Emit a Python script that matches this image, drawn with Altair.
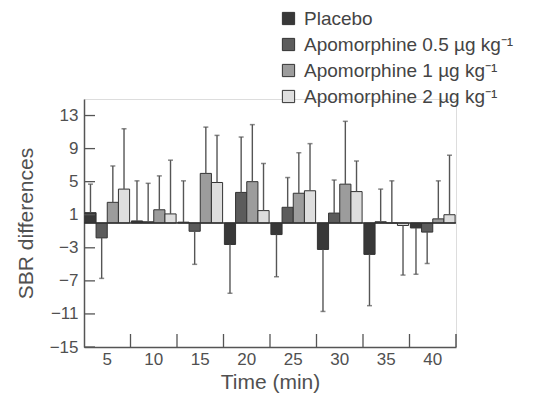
import altair as alt
import pandas as pd

times = [5, 10, 15, 20, 25, 30, 35, 40]
groups = [
    "Placebo",
    "Apomorphine 0.5 µg kg⁻¹",
    "Apomorphine 1 µg kg⁻¹",
    "Apomorphine 2 µg kg⁻¹",
]
placebo = [1.25, 0.25, 0.1, -2.6, -1.4, -3.2, -3.8, -0.6]
placebo_end = [4.7, 5.1, 5.1, -8.5, -6.5, -10.7, -10.0, -6.2]
apo05 = [-1.8, 0.15, -1.0, 3.7, 1.9, 1.2, 0.15, -1.1]
apo05_end = [-6.7, 4.8, -5.0, 10.4, 5.5, 5.2, 4.1, -4.9]
apo1 = [2.5, 1.6, 6.0, 5.0, 3.6, 4.7, 0.0, 0.5]
apo1_end = [6.9, 5.7, 11.6, 11.9, 8.5, 12.3, 5.1, 5.1]
apo2 = [4.1, 1.1, 4.9, 1.5, 3.9, 3.8, -0.3, 1.0]
apo2_end = [11.4, 7.6, 10.6, 7.2, 9.6, 7.5, -6.3, 8.2]
y_ticks = [-15, -11, -7, -3, 1, 5, 9, 13]
colors = ["#383838", "#5c5c5c", "#9c9c9c", "#dedede"]

W, H = 372, 248
TXT = "#505050"
AX = "#555555"

rows = []
for g, vals, ends in zip(groups, [placebo, apo05, apo1, apo2],
                         [placebo_end, apo05_end, apo1_end, apo2_end]):
    for t, v, e in zip(times, vals, ends):
        rows.append({"time": t, "group": g, "value": v, "end": e})
df = pd.DataFrame(rows)

xscale = alt.Scale(paddingInner=0, paddingOuter=0)
x_axis = alt.Axis(title="Time (min)", labelAngle=0, ticks=False, domainColor=AX,
                  domainWidth=1.5, labelFontSize=17, labelColor=TXT, labelPadding=4,
                  titleFontSize=21, titleColor=TXT, titleFontWeight="normal",
                  titlePadding=4, grid=False)
x = alt.X("time:O", scale=xscale, axis=x_axis)
xoff = alt.XOffset("group:N", scale=alt.Scale(domain=groups, paddingInner=0, paddingOuter=0.08))
yscale = alt.Scale(domain=[-15, 15], nice=False)
y_axis = alt.Axis(title="SBR differences", values=y_ticks, ticks=False, grid=False,
                  domainColor=AX, domainWidth=1.5, labelFontSize=17, labelColor=TXT,
                  labelPadding=6, labelOverlap=False, titleFontSize=21, titleColor=TXT,
                  titleFontWeight="normal", titlePadding=13)

base = alt.Chart(df)

bars = base.mark_bar(stroke="#333333", strokeWidth=1).encode(
    x=x,
    xOffset=xoff,
    y=alt.Y("value:Q", scale=yscale, axis=y_axis),
    y2=alt.datum(0),
    color=alt.Color("group:N", scale=alt.Scale(domain=groups, range=colors),
                    legend=alt.Legend(orient="none", legendX=195, legendY=-90, title=None,
                                      labelFontSize=19, labelColor="#444444",
                                      symbolType="square", symbolSize=150,
                                      symbolStrokeColor="#333333", symbolStrokeWidth=1,
                                      rowPadding=6, padding=0, labelOffset=6,
                                      labelLimit=400)),
)

err = base.mark_rule(color=AX, strokeWidth=1.4).encode(
    x=x, xOffset=xoff, y=alt.Y("value:Q", scale=yscale, axis=y_axis), y2="end:Q"
)
caps = base.mark_tick(color=AX, thickness=1.5, size=5).encode(
    x=x, xOffset=xoff, y=alt.Y("end:Q", scale=yscale, axis=y_axis)
)

zero_df = pd.DataFrame({"v": [0]})
baseline = alt.Chart(zero_df).mark_rule(color="#333333", strokeWidth=1.5).encode(
    y=alt.Y("v:Q", scale=yscale, axis=y_axis), x=alt.value(0), x2=alt.value(W)
)

ytick_df = pd.DataFrame({"v": y_ticks})
yticks = alt.Chart(ytick_df).mark_rule(color=AX, strokeWidth=1.3).encode(
    y=alt.Y("v:Q", scale=yscale, axis=y_axis), x=alt.value(0), x2=alt.value(11)
)

xb_df = pd.DataFrame({"time": times[1:]})
xticks = alt.Chart(xb_df).mark_rule(color=AX, strokeWidth=1.3).encode(
    x=alt.X("time:O", scale=xscale, bandPosition=0, axis=x_axis),
    y=alt.value(H), y2=alt.value(H - 13)
)
xe_df = pd.DataFrame({"time": times[-1:]})
xend = alt.Chart(xe_df).mark_rule(color=AX, strokeWidth=1.5).encode(
    x=alt.X("time:O", scale=xscale, bandPosition=1, axis=x_axis),
    y=alt.value(H), y2=alt.value(H - 13)
)

chart = alt.layer(bars, err, caps, baseline, yticks, xticks, xend).properties(
    width=W, height=H,
    autosize=alt.AutoSizeParams(type="none"),
    padding={"left": 76, "top": 91, "right": 60, "bottom": 50},
).configure_view(stroke=None).configure(font="Liberation Sans").configure_axis(
    labelOverlap=False
)

chart.save("out.html", embed_options={"renderer": "svg", "actions": False})
